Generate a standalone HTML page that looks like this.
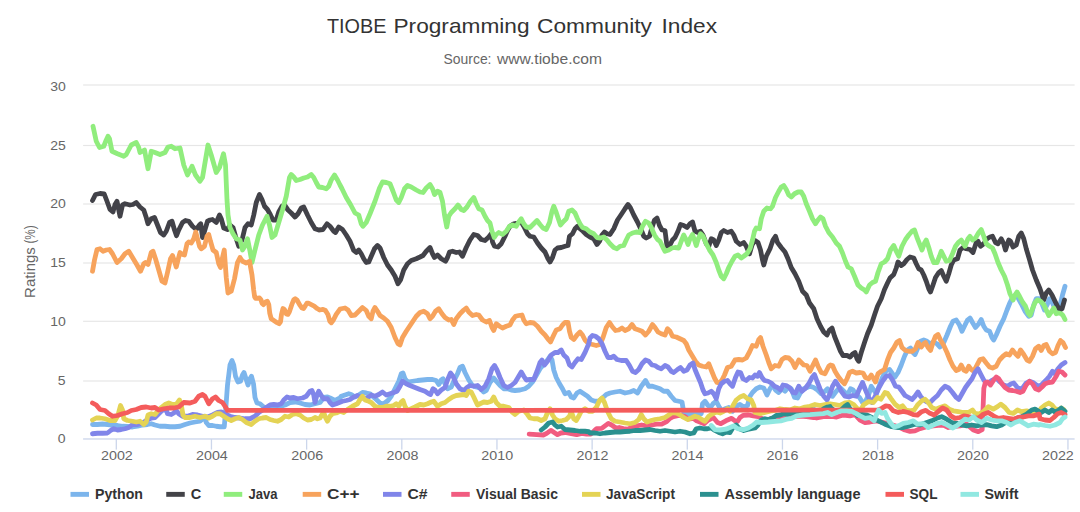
<!DOCTYPE html>
<html lang="en"><head><meta charset="utf-8"><title>TIOBE Programming Community Index</title>
<style>
html,body{margin:0;padding:0;background:#fff;}
body{width:1080px;height:512px;overflow:hidden;font-family:"Liberation Sans","DejaVu Sans",sans-serif;}
svg{display:block;}
text{font-family:"Liberation Sans","DejaVu Sans",sans-serif;}
.ttl{font-size:20.8px;fill:#333333;}
.sub{font-size:14.2px;fill:#666666;}
.ax{font-size:13px;fill:#666666;}
.yt{font-size:14px;fill:#666666;}
.lg{font-size:14px;font-weight:bold;fill:#333333;}
.ser{fill:none;stroke-width:4.8;stroke-linejoin:round;stroke-linecap:round;}
.grid{fill:#e6e6e6;}
.axl{fill:#ccd6eb;}
</style></head><body>
<svg width="1080" height="512" viewBox="0 0 1080 512">
<rect x="0" y="0" width="1080" height="512" fill="#ffffff"/>

<g class="grid">
<rect x="83.1" y="84.425" width="991.5" height="1.15"/>
<rect x="83.1" y="144.925" width="991.5" height="1.15"/>
<rect x="83.1" y="203.425" width="991.5" height="1.15"/>
<rect x="83.1" y="262.425" width="991.5" height="1.15"/>
<rect x="83.1" y="320.725" width="991.5" height="1.15"/>
<rect x="83.1" y="380.425" width="991.5" height="1.15"/>
</g>
<defs><filter id="soft" x="0" y="0" width="1080" height="512" filterUnits="userSpaceOnUse"><feGaussianBlur stdDeviation="0.45"/></filter></defs>
<g class="series" filter="url(#soft)">
<path class="ser" d="M92.5 424.5 L97.5 424.5 L102.5 424 L107.5 424.5 L112.5 425 L117.5 425.5 L122.5 426.25 L127.5 426.5 L132.5 427 L137.5 426.25 L142.5 425 L147.5 424.5 L151.25 423.75 L155 425 L160 426.25 L165 426.25 L170 426.75 L175 426.75 L180 426.25 L185 424.5 L190 423 L195 422 L200 421.25 L203 418.75 L204.5 416.25 L206.25 422.5 L208.75 425.5 L212.5 425.5 L216.25 426.25 L220 426.75 L224.25 426.75 L225.5 412.5 L227.5 385 L230 365 L232 360.5 L233.75 365 L235.5 376.25 L238 382 L240.5 381.25 L242.5 375 L244 372.5 L246 378.75 L248 385 L250 378.75 L251.5 376.25 L253.5 383.75 L255 397.5 L257 403 L260 403.75 L263.75 407 L267.5 408 L272.5 408 L278.75 407 L285 405 L290 402.5 L295 402 L300 403 L305 404.5 L310 405 L315 403.75 L320 402.5 L323.75 397.5 L327.5 397 L330 398 L335 400.5 L340 398 L341.25 396.25 L345 395 L348.75 393.75 L351.25 394.5 L355 397 L358.75 395 L362.5 392.5 L366.25 393 L370 393.75 L372.5 396.25 L376.25 399.5 L380 403 L383.75 403.75 L388 400.5 L391.25 396.25 L395 388.75 L398.75 381.25 L401.25 373.75 L403 373 L405 378.75 L407.5 382 L412.5 381.25 L417.5 380.5 L422.5 380 L427.5 379.5 L432.5 379.5 L436.25 380.5 L438.75 384.5 L441.25 380 L443 378.75 L445 383.75 L447.5 388.75 L451.25 387 L453.75 381.25 L457.5 373.75 L460 367.5 L462.5 366.25 L465 372.5 L468.75 380 L472.5 385.5 L476.25 387 L480 388 L483.75 392 L486.25 390.5 L490 382.5 L493.75 378 L496.25 381.25 L500 385.5 L503.75 388.75 L507.5 388.75 L511.25 390 L515 390.5 L520 390 L525 388.75 L528.75 386.25 L532.5 382 L536.25 375.5 L540 368.75 L543.75 364.5 L547.5 360 L550 356.25 L552 360 L553.75 370 L556.25 377.5 L559.5 383.75 L562.5 388.75 L565 393.75 L568.75 392.5 L571.25 397 L573.75 398 L577 393 L580 391.25 L583.75 393.75 L587.5 396.25 L591.25 400 L595 401.25 L598.75 401.25 L602.5 398 L606.25 394.5 L610 393 L615 392 L620 391.25 L625 393 L630 392 L633.75 390.5 L637.5 393 L641.25 386.25 L645.5 380.5 L648.75 386.25 L652.5 386.25 L656.25 387.5 L660 388.75 L663.75 391.25 L667.5 391.25 L671.25 396.25 L675 400.5 L678.75 401.25 L682 402 L683.75 412.5 L687.5 413.75 L692.5 413.75 L697.5 413.75 L701.25 413.75 L702.5 403.75 L705 401.25 L708 405.5 L710.5 407.5 L713 403.75 L716.25 401.25 L719.5 407.5 L722.5 411.25 L725 408.75 L728.75 407.5 L732.5 411.25 L736.25 406.25 L740 404.5 L743.75 407 L747.5 405.5 L750 396.25 L752.5 392.5 L756.25 388.75 L760 387 L763.75 388 L767 395 L770 388.75 L772.5 385 L775.5 390 L778.75 392.5 L782 388.75 L785 391.25 L788 387.5 L791.25 388.75 L794.5 397.5 L797.5 398 L800.5 392.5 L803.75 388.75 L807 387.5 L810 386.25 L813.75 387.5 L817.5 390 L821.25 393.75 L825 391.25 L827.5 388.75 L830 393.75 L832.5 396.25 L836.25 391.25 L840 387.5 L843.75 391.25 L847.5 395 L850.5 388.75 L853 390 L856.25 394.5 L859.5 397.5 L862.5 402.5 L865.5 401.25 L868.75 394.5 L871.25 386.25 L873.75 390 L876.25 393.75 L879.5 385 L883 376.25 L886.25 370.5 L889.5 369.5 L892.5 373.75 L895 377 L898 372.5 L901.25 365 L904.5 356.25 L907.5 350 L910.5 348 L913 352.5 L915 354.5 L918 347.5 L920.5 341.25 L923.75 340 L927 341.25 L930 343.75 L933.75 342 L937 343.75 L940 347 L943.75 342.5 L947 335 L950.5 326.25 L953 321.25 L956.25 320 L959.5 325 L962 331.25 L965 325 L967.5 320 L970 318 L972.5 322.5 L975.5 327.5 L978.75 323.75 L981.25 319.5 L983.75 326.25 L986.25 330 L989.5 331.25 L992 337.5 L993.75 340 L996.25 335 L1000 326.25 L1003.75 318.75 L1007 310 L1010 302.5 L1012.5 297.5 L1016.25 294.5 L1021.25 303.75 L1025 311.25 L1028.75 316.25 L1031.25 315 L1033.75 305 L1036.25 298.75 L1039.5 298.75 L1042.5 305 L1044.5 310 L1047 305 L1049.5 298.75 L1052 302 L1054.5 307.5 L1057.5 310.5 L1060 305 L1062.5 295 L1065 286.25" stroke="#7cb5ec"/>
<path class="ser" d="M92.5 200.5 L95.5 194.5 L100 193.5 L104.25 194 L107 201.25 L110 209.5 L113 212 L115 204.5 L117 201.25 L120 216.25 L122.5 205 L125 203.75 L130 205 L133 204.5 L136.25 202.5 L140 207 L143.75 210 L146.25 217.5 L148 223.75 L151.25 218.75 L154.5 217.5 L157.5 225 L160.5 232.5 L163.75 235 L166.25 231.25 L169.5 222.5 L172 221.25 L174.5 230 L176.5 235.75 L178.75 230 L182.5 222.5 L185.5 220.5 L188.75 221.25 L192.5 226.25 L196.25 229.5 L199.5 225 L200.75 223.75 L202.5 237.5 L204.5 231.25 L207.5 221.25 L210 220 L212.5 219.5 L216.25 222.5 L219.5 215 L221.25 218.75 L223.75 228 L227.5 229.5 L230 225 L233 227.5 L235.5 236.25 L238.75 246.25 L242 240 L245 227.5 L248 223.75 L251.25 225 L253.75 215 L256.25 202.5 L259.5 194.5 L262 199.5 L264.5 206.25 L267.5 209.5 L270.5 215 L273 220 L276.25 220 L278.75 212 L282 206.25 L284.5 205 L288 210 L291.25 213 L295 217 L298 213.75 L301.25 208 L303.75 207 L307.5 215 L311.25 222.5 L315 228.75 L318.75 230 L323 229.5 L327 223.75 L330 226.25 L333.75 231.25 L335.5 232.5 L338.75 227 L342.5 229.5 L346.25 235 L350 241.25 L353.75 250.5 L356.25 252.5 L358.75 250 L361.25 253.75 L363.75 258.75 L366.25 262.5 L368.75 262 L371.25 256.25 L374.5 248.75 L377.5 245.5 L380 248 L383.75 257.5 L387.5 265 L391.25 270 L395 276.25 L398 283.75 L400.5 280 L403.75 270 L407.5 263.75 L411.25 260.5 L416.25 258.75 L420 257 L423 255.5 L426.25 251.25 L430 247.5 L432.5 253.75 L434.5 257.5 L437.5 255 L441.25 258.75 L445.5 261.25 L447.5 257.5 L449.5 252 L452.5 251.25 L456.25 252.5 L459.5 252 L462.5 256.25 L466.25 247.5 L470 240 L473.75 234.5 L477.5 235.5 L481.25 239.5 L485 240.5 L488.75 237 L491.25 233.75 L492.5 242 L494.5 246.25 L498 247 L501.25 243.75 L505 236.25 L507.5 230.5 L510 226.25 L513.75 223.75 L517.5 223 L521.25 222 L523.75 226.25 L527.5 233.75 L530 236.25 L533.75 237 L537.5 243 L541.25 248 L545 252 L548 258.75 L550 262 L552.5 257.5 L555 250 L557.5 248 L561.25 247.5 L565 246.25 L568 245.5 L569.5 236.25 L572.5 233.75 L575 228.75 L577.5 226.25 L580 228.75 L583 231.25 L586.25 234.5 L590 237 L593.75 238.75 L597 244.5 L599.5 241.25 L602 235 L604.5 232 L607 233.75 L610 234.5 L613.75 228.75 L617.5 220 L621.25 214.5 L625 208.75 L628 204.5 L630.5 208 L633.75 215 L637.5 222 L641.25 230 L643.75 236.25 L646.25 238 L649.5 236.25 L652 227.5 L654.5 220 L657 218 L659.5 225.5 L662 230 L665 230.5 L667 246.25 L670 245 L672.5 240 L675 237.5 L678 231.25 L680.5 224.5 L683.75 225.5 L687 227.5 L690 223.75 L692.5 222 L695 231.25 L698 232.5 L700.5 231.25 L703 235 L706.25 243.75 L708.75 246.25 L711.25 238.75 L713.75 240 L716.25 245.5 L718.75 240 L721.25 232.5 L723.75 230.5 L727.5 232.5 L731.25 231.25 L733.75 235 L736.25 241.25 L740 244.5 L743.75 242.5 L746.25 246.25 L749.5 253.75 L752 245 L755 240.5 L758 242.5 L760.5 250 L762.5 260 L763.75 265 L766.25 256.25 L770 248.75 L773 240 L775.5 236.25 L777.5 242.5 L781.25 247.5 L785 252 L788 258.75 L791.25 267.5 L795 273.75 L798.75 281.25 L802.5 291.25 L806.25 295 L809.5 303 L813.75 308.75 L817 318.75 L820.5 326.25 L823.75 332 L827 335 L829.5 330 L832 328 L834.5 336.25 L837.5 343.75 L840.5 351.25 L843 355.5 L847 355.5 L850 357 L853 353.75 L855 352.5 L857 358.75 L858.75 361.25 L861.25 352.5 L864.5 342.5 L867.5 333.75 L871.25 325 L874.5 315 L877.5 306.25 L881.25 298.75 L884.5 289.5 L887.5 283 L890 278 L893.75 274.5 L896.25 268 L898 262 L901.25 265.5 L903.75 263.75 L907 259.5 L910 257 L913.75 258 L916.25 263.75 L918.75 268.75 L921.25 270 L923.75 275 L926.25 281.25 L928.75 288.75 L930.5 292 L933 285 L935.5 277.5 L938.75 272.5 L941.25 270.5 L943.75 276.25 L946.25 281.25 L948.75 273.75 L951.25 265 L953.75 260 L957.5 258.75 L960 250 L963 247.5 L966.25 248.75 L970 249.5 L973 252.5 L976.25 242.5 L978 241.25 L980.5 246.25 L983.75 243.75 L987 238.75 L990 237 L992.5 236.25 L995.5 242.5 L998 243.75 L1001.25 238.75 L1003.75 243.75 L1005.5 250 L1008.75 240 L1010.5 241.25 L1013 247 L1016.25 245 L1018.75 236.25 L1021.25 233 L1023.75 238.75 L1026.25 248.75 L1029.5 259.5 L1032.5 270 L1036.25 280 L1040 288.75 L1043.75 300 L1046.25 293 L1048.75 290 L1052 295 L1055 301.25 L1057.5 306.25 L1060 310 L1062 308.75 L1064.5 300" stroke="#434348"/>
<path class="ser" d="M93 126.25 L96.25 141.25 L99.5 147.5 L103.75 146.25 L106.25 140 L108 136.25 L109.5 138.75 L112 151.25 L117.5 153.75 L123.75 156.25 L126.25 154.5 L131.25 145 L136.25 142.5 L138.75 147.5 L140 152.5 L144.5 150 L148 168.75 L151.25 151.25 L155 152.5 L160 154.5 L165 152.5 L168 147 L171.25 146.25 L175 148.75 L180 148 L183.75 165 L187.5 175 L192 166.25 L195.5 175 L200 181.25 L202.5 177.5 L208 145 L211.25 155 L216.25 172.5 L219.5 167.5 L223.5 153.75 L225.5 165 L227 200 L228 215 L230 227.5 L233 233.75 L236.25 238.75 L240 240 L242.5 250 L245 246.25 L247.5 238.75 L250 251.25 L252 262.5 L255 250 L258.75 235 L262.5 225 L267 216.25 L269.5 225 L272 237.5 L275 235 L278.75 222.5 L282.5 210 L286.25 196.25 L289.5 177.5 L291.25 174.5 L293.75 177 L296.25 180.5 L300 179.5 L303.75 178 L307.5 177 L311.25 174.5 L313.75 177.5 L316.25 182.5 L318.75 187 L322.5 187.5 L326.25 188.75 L328.75 186.25 L331.25 180 L334.5 175 L337.5 180 L340 185 L342 188.75 L346.25 197.5 L350.5 204.5 L355 213 L358.75 215 L361.25 223.75 L363 226.25 L366.25 222.5 L370 213.75 L375 201.25 L379.5 188 L382.5 182 L386.25 182.5 L390 183.75 L393 191.25 L396.25 200 L398.75 202.5 L401.25 197.5 L404.5 188.75 L407.5 185.5 L411.25 187 L416.25 190 L420 192 L423 192.5 L426.25 188 L430 184.5 L432.5 188.75 L434.5 194.5 L437.5 191.25 L440 192.5 L442.5 201.25 L444.5 215 L446.75 227 L448.75 216.25 L451.25 212.5 L455 208.75 L458 205 L461.25 209.5 L463.75 210.5 L467 207 L470.5 201.25 L473.75 197.5 L476.25 203.75 L478.75 208.75 L482 210 L485 216.25 L487.5 220.5 L490 223 L492 231.25 L494.25 237.5 L496.25 234.5 L498.75 232.5 L502.5 234.5 L506.25 231.25 L509.5 226.25 L512.5 225 L516.25 226.25 L518.75 222 L521.25 218.75 L523.75 223.75 L526.25 227 L530 227.5 L533.75 223.75 L537 220.5 L540 224.5 L543 228 L546.25 229.5 L549.5 222.5 L552 211.25 L553.75 206.25 L556.25 212.5 L558.75 220 L560.5 225 L563.75 221.25 L566.25 218.75 L568.75 211.25 L572 210 L575 213 L577.5 218.75 L580 223.75 L582.5 227.5 L586.25 228.75 L590 232 L593.75 233.75 L597 237.5 L600.5 238 L603.75 237 L607 240 L610 243.75 L613.75 247.5 L617 248.75 L620 246.25 L623.75 245.5 L626.25 240 L628.75 235 L632.5 233 L636.25 232 L640 232.5 L642.5 226.25 L645.5 221.25 L648.75 223 L651.25 227.5 L654.5 235 L657.5 239.5 L660 241.25 L663 247.5 L665 251.25 L668.75 250 L672 248 L675 247.5 L678.75 248 L681.25 241.25 L683.75 235 L686.25 240 L688 244.5 L690 238.75 L692.5 234.5 L694.5 240 L696.25 245.5 L698 239.5 L700.5 233.75 L703 236.25 L706.25 243.75 L709.5 250 L713 255 L716.25 262.5 L718.75 270 L721.25 276.25 L723.75 278.75 L726.25 273.75 L728.75 267.5 L732 261.25 L735 256.25 L738 255 L741.25 258 L743.75 256.25 L747 253.75 L750 248.75 L752.5 240 L754.5 231.25 L756.25 228 L759.5 228.75 L761.25 218.75 L763.75 211.25 L767 208 L770.5 208.75 L772.5 206.25 L775.5 197.5 L778.75 191.25 L781.25 187 L783.75 185.5 L786.25 189.5 L788.75 195 L791.25 197 L794.5 193.75 L798 192 L801.25 192 L803.75 196.25 L806.25 203.75 L809.5 211.25 L812.5 218.75 L815.5 223.75 L818 220 L820.5 217 L823 218.75 L825.5 226.25 L828.75 232.5 L832.5 237 L836.25 243 L839.5 246.25 L842.5 253 L845.5 261.25 L848 267 L851.25 268.75 L854.5 276.25 L858 285 L861.25 288 L864.5 290 L866.25 292 L869.5 285 L872.5 282.5 L875.5 281.25 L878 272.5 L881.25 263.75 L884.5 262 L887.5 258.75 L890.5 250 L893.75 245.5 L896.25 251.25 L898.75 256.25 L902 246.25 L905.5 239.5 L908.75 235 L912 231.25 L914.5 230 L917 237.5 L920 245 L922 250 L924.5 243 L926.25 240 L928.75 247.5 L931.25 256.25 L933.75 262.5 L937 262.5 L939.5 256.25 L941.25 251.25 L943.75 256.25 L946.25 261.25 L949.5 260.5 L952.5 253.75 L955.5 246.25 L958.75 242 L961.25 240 L965 246.25 L968 238.75 L970 236.25 L972.5 240 L975.5 238 L978.75 232.5 L981.25 229.5 L983.75 236.25 L986.25 243.75 L989.5 246.25 L992.5 248 L995 253.75 L998 262.5 L1001.25 270 L1004.5 276.25 L1007.5 285 L1010 293.75 L1013 300 L1015 295 L1017 292 L1019.5 296.25 L1022.5 302 L1025.5 306.25 L1028 313 L1030 315.5 L1032.5 308.75 L1035 302.5 L1037.5 300 L1040.5 301.25 L1043.75 304.5 L1046.25 310 L1048.75 315.5 L1051.25 312 L1053.75 308 L1056.25 313.75 L1058.75 313 L1061.25 313.75 L1063 315.5 L1065 319.5" stroke="#90ed7d"/>
<path class="ser" d="M92.5 271.25 L94.5 260 L97 249.5 L100 248.75 L103 251.25 L106.25 250 L109.5 249.5 L112.5 253.75 L117 262.5 L121.25 258.75 L125 253.75 L128.75 251.25 L132.5 257.5 L137 265 L140.5 271.25 L143.75 263.75 L145.5 262.5 L148 264.5 L151.25 252.5 L153 251.25 L155.5 258.75 L158.75 270 L162 281.25 L165 283 L167.5 272.5 L170.5 258.75 L172.5 255.5 L174.5 261.25 L176.25 267 L178 260 L180 252.5 L182.5 254.5 L184.5 255 L187 243.75 L188.75 242 L191.25 243 L193.75 238.75 L195.75 232 L197.5 238.75 L199.5 246.25 L201.25 248.75 L204.5 246.25 L207 236.25 L208.75 234.5 L210.5 241.25 L213 250 L216.25 252.5 L218.75 263.75 L220.5 267.5 L222.5 257.5 L224.25 250 L226.25 277.5 L228 293 L231.25 291.25 L234.5 278.75 L237.5 262.5 L240 257.5 L242.5 261.25 L246.25 263 L249.5 261.25 L252 275 L253.67 290 L254.65 296.84 L255.62 298.3 L259.53 298.01 L261 299.77 L261.97 303.18 L263.44 304.65 L265.88 301.72 L267.34 301.23 L268.81 304.65 L269.79 313.44 L271.25 318.81 L274.18 320.76 L277.11 322.71 L279.06 323.69 L280.53 321.74 L281.5 314.41 L282.97 308.55 L284.43 309.53 L286.39 313.93 L287.85 314.41 L289.32 311.97 L291.76 304.65 L293.71 299.77 L295.18 298.79 L297.13 300.25 L299.57 304.65 L302.01 308.07 L303.48 308.55 L305.43 305.62 L306.89 303.18 L308.36 303.18 L311.29 304.65 L314.22 306.11 L317.15 308.55 L319.59 310.02 L323.01 309.34 L325.45 310.51 L327.89 314.41 L329.84 321.25 L331.31 322.71 L333.26 320.27 L336.19 314.41 L340 309.04 L341.25 308.75 L345 308 L348 310 L351.25 315.5 L355 315 L358.75 311.25 L362.5 307.5 L366.25 310.5 L368.75 316.25 L371.25 318.75 L373 311.25 L375 307.5 L377.5 311.25 L380 315.5 L383.75 318 L387.5 321.25 L391.25 327.5 L395 337.5 L398 343.75 L400 345 L402.5 337.5 L406.25 331.25 L411.25 323.75 L416.25 316.25 L420 312.5 L423.75 311.25 L427.5 313.75 L430 318.75 L432.5 316.25 L435.5 311.25 L438.75 308.75 L442 313.75 L445 317.5 L448.75 320 L451.25 319.5 L453.75 324.5 L456.25 318.75 L460 313.75 L463.75 310 L466.25 308 L468.75 312 L472.5 315.5 L476.25 314.5 L478.75 315 L482.5 320 L486.25 322 L489.5 320.5 L492 327.5 L493.75 330.5 L496.25 323.75 L499.5 326.25 L502.5 328 L506.25 326.25 L510 325 L512.5 320 L515.5 316.25 L518.75 315.5 L522 315 L523.75 320 L526.25 323.75 L530 322.5 L533.75 323 L537.5 326.25 L541.25 331.25 L545 335 L548.75 340 L550.5 342 L553.75 335 L556.25 330 L560 328.75 L562.5 325 L565 322.5 L568 322.5 L569.5 331.25 L571.25 337.5 L573.75 339.5 L577 335 L580 332 L582.5 335 L585 340 L588.75 343.75 L592.5 344.5 L596.25 345.5 L600 344.5 L603 337.5 L606.25 327.5 L609.5 322.5 L612.5 327 L615.5 330.5 L618.75 330 L622 328 L625 330.5 L628.75 328.75 L632 324.5 L635 328.75 L638.75 330 L642 331.25 L645.5 335 L648.75 331.25 L652.5 324.5 L655 327.5 L658 332 L661.25 333.75 L665 335 L667.5 328.75 L670 331.25 L672.5 336.25 L676.25 337 L680 338.75 L683.75 340.5 L686.25 343.75 L688.75 350 L692.5 356.25 L695.5 361.25 L698.75 365 L702.5 366.25 L706.25 367 L708.75 363.75 L711.25 370 L714.5 378 L717 382.5 L719.5 383 L722 380 L724.5 375 L727.5 367.5 L731.25 366.25 L735 360 L738.75 359.5 L742.5 360 L746.25 358 L749.5 352 L752.5 345.5 L756.25 346.25 L758.75 339.5 L760.5 337.5 L763 346.25 L766.25 355 L768.75 362.5 L771.25 368.75 L775 365.5 L778.75 366.25 L782 359.5 L785 357.5 L788.75 358 L792 361.25 L795 367.5 L798.75 360 L801.25 362.5 L803.75 365 L807 365.5 L810 371.25 L813 365 L815.5 360 L818 366.25 L821.25 372.5 L825 373.75 L828.75 366.25 L830.5 365 L832.5 365.5 L835 371.25 L838 376.25 L841.25 380.5 L844.5 383.75 L847 378.75 L849.5 372.5 L852.5 371.25 L856.25 373 L860 372.5 L863 373 L865.5 377.5 L868.75 378.75 L871.25 375 L873.75 378.75 L875.5 382 L878 373.75 L881.25 371.25 L884.5 369.5 L887.5 360 L890.5 352.5 L893.75 348 L897 342 L899.5 340.5 L902 347.5 L905.5 350.5 L908.75 351.25 L912.5 351.25 L915.5 348.75 L918 342.5 L921.25 347 L923.75 343.75 L925.5 342.5 L928 347.5 L930.5 350.5 L933 342.5 L935.5 336.25 L938 334.5 L940.5 340 L943.75 345.5 L947 352.5 L950 360 L953 366.25 L956.25 370.5 L958.75 369.5 L961.25 365 L963.75 370 L966.25 371.25 L968.75 366.25 L971.25 369.5 L973.75 371.25 L977 365 L980 359.5 L983 358.75 L986.25 363 L989.5 367 L992.5 368 L996.25 366.25 L999.5 360 L1003 356.25 L1006.25 353.75 L1009.5 355 L1012.5 350 L1015.5 353.75 L1018 356.25 L1020.5 350 L1023.75 354.5 L1027 360 L1029.5 361.25 L1032.5 356.25 L1035.5 348.75 L1038.75 346.25 L1041.25 350.5 L1043.75 345.5 L1046.25 344.5 L1049.5 351.25 L1052.5 353.75 L1055.5 352.5 L1058 345.5 L1060.5 340.5 L1063 342.5 L1065.5 347.5" stroke="#f7a35c"/>
<path class="ser" d="M92.5 433.75 L97.5 433.25 L102.5 433.25 L107.5 433 L111.25 430 L113.75 428.75 L117.5 430 L121.25 429.5 L125 428.75 L128.75 427.5 L132.5 424.5 L137.5 424.5 L142.5 423 L146.25 420.5 L151.25 418 L155 417.5 L158.75 413.75 L162.5 410 L166.25 409.5 L167.5 413.75 L171.25 414.5 L173.75 413 L176.25 410.5 L178.75 413.75 L182.5 416.25 L187.5 416.25 L192.5 414.5 L197.5 415 L202.5 416.25 L207.5 417 L212.5 415 L217.5 412.5 L221.25 412 L226.25 414.5 L230 416.25 L235 417.5 L240 418 L245 418.75 L250 418.75 L255 416.25 L258.75 412.5 L262.5 410 L266.25 407.5 L270 405 L273.75 404.5 L277.5 405 L281.25 403.75 L283.75 400 L287 397 L290 398 L293.75 397.5 L297.5 398.75 L302.5 398 L306.25 396.25 L310 391.25 L312 390.5 L313.75 395 L315 402.5 L317 395 L318.75 391.25 L321.25 395.5 L323.75 398.75 L327.5 398.75 L330 402.5 L332.5 405 L336.25 403.75 L342.5 401.25 L346.25 400.5 L350 399.5 L353.75 397 L357.5 395.5 L361.25 397.5 L365 398.75 L368.75 397 L371.25 395 L375 396.25 L378.75 394.5 L382.5 392 L386.25 395 L390 393.75 L393.75 392.5 L397 391.25 L400 386.25 L402.5 381.25 L406.25 383.75 L410 385.5 L415 387.5 L420 389.5 L425 391.25 L428.75 393.75 L430.5 394.5 L433 388.75 L435 390 L437.5 393.75 L441.25 390 L445 387.5 L447.5 380 L450.5 373 L453 376.25 L456.25 383.75 L460 388.75 L463.75 390.5 L467 387.5 L470 385.5 L473.75 386.25 L477.5 385.5 L481.25 389.5 L485 386.25 L488.75 378.75 L492 368.75 L494.5 365.5 L497 370 L500 377.5 L503.75 385.5 L507.5 387.5 L511.25 385.5 L515 382.5 L518 377.5 L521.25 372 L523.75 376.25 L526.25 380 L530 379.5 L533.75 379.5 L537 371.25 L540 362.5 L542 360 L544.5 365 L547.5 361.25 L551.25 355 L555 352.5 L558 352.5 L561.25 350 L563.75 355 L567 358 L569.5 365 L572 367 L575 362.5 L578 358.75 L581.25 359.5 L585 352.5 L588.75 343.75 L590 338 L592.5 335.5 L595.5 336.25 L598.75 338.75 L602 343.75 L605 351.25 L608 357.5 L611.25 357.5 L613.75 356.25 L617 359.5 L621.25 360.5 L626.25 360.5 L629.5 365.5 L632.5 371.25 L635.5 372.5 L638.75 369.5 L642 363.75 L645.5 360 L648.75 361.25 L652 365 L655 365.5 L658 367.5 L661.25 368.75 L665 365.5 L668 367 L671.25 371.25 L673.75 372.5 L677.5 369.5 L680.5 367.5 L683.75 371.25 L687 370 L690 365 L693 363 L695 369.5 L697.5 375.5 L700.5 382.5 L703 390 L705 393.75 L708 393 L711.25 391.25 L713.75 393.75 L716.25 398.75 L718.75 388.75 L721.25 383.75 L724.5 381.25 L727.5 380.5 L730 383.75 L732.5 386.25 L735.5 377.5 L738 372 L740.5 372.5 L743 378.75 L746.25 380.5 L749.5 377.5 L752.5 378 L755 375 L757.5 376.25 L759.5 372.5 L762 377.5 L764.5 380.5 L768 381.25 L771.25 383 L774.5 386.25 L777.5 387.5 L780.5 390 L783 385 L786.25 385.5 L789.5 387.5 L793 392.5 L795.5 393 L798.75 386.25 L802 391.25 L805 388.75 L808.75 383.75 L812 377.5 L814.5 374.5 L817 381.25 L820 388.75 L823.75 396.25 L827 400 L830 393.75 L832.5 386.25 L835.5 381.25 L838 385 L841.25 391.25 L845 396.25 L848.75 397 L852.5 395.5 L856.25 396.25 L859.5 388.75 L862.5 382.5 L865.5 390 L868.75 397.5 L872 402.5 L875.5 395.5 L878.75 388 L882.5 381.25 L886.25 376.25 L889.5 375.5 L892.5 380 L895.5 386.25 L898.75 387 L902 391.25 L905 395.5 L908.75 397.5 L912 399.5 L915 396.25 L918 392 L920.5 396.25 L923.75 400 L927 402 L930 402.5 L933.75 398.75 L937.5 395.5 L941.25 390 L945 386.25 L948.75 388 L952.5 392.5 L956.25 397.5 L958.75 399.5 L962 393.75 L965.5 387.5 L968.75 383 L972 378.75 L975 372.5 L978 368.75 L980.5 373.75 L983.75 380 L986.25 383 L989.5 382 L992.5 380 L996.25 378 L1000 382 L1003.75 385 L1007.5 386.25 L1011.25 383.75 L1013.75 383 L1017 387 L1020 389.5 L1023 387.5 L1026.25 383 L1029.5 381.25 L1033 382.5 L1036.25 385 L1039.5 386.25 L1042.5 383.75 L1046.25 380 L1049.5 376.25 L1052.5 371.25 L1055 373.75 L1058 368.75 L1061.25 365 L1065 362.5" stroke="#8085e9"/>
<path class="ser" d="M529.17 434.17 L536.67 434.67 L543.33 435 L546.67 433.33 L550.83 430.33 L554.17 432.5 L557.5 434.67 L560.83 433 L565 432.5 L570 433.33 L576.67 434.67 L581.67 433.33 L586.67 434.17 L590.83 434.17 L594.17 430.83 L596.67 428.67 L601.67 428.33 L605 425.83 L608.33 423.33 L611.67 425 L615.83 428 L619.17 427.5 L623.33 428.67 L627.5 429.17 L631.67 427.5 L636.67 425.83 L641.67 425 L646.67 425.83 L651.67 425 L656.67 424.17 L661.67 424.17 L666.67 421.67 L670 418.33 L673.33 416.67 L676.67 415.83 L680 415.33 L685 416.67 L688.33 419.17 L693.33 418.33 L696.67 420.83 L704.17 423.67 L708.33 420 L713.33 417.5 L717.5 422.5 L720.83 423.67 L725.83 420.83 L731.67 418.33 L735 420.83 L737.5 421.33 L740 417.5 L743.33 415.33 L748.33 415 L753.33 415.83 L758.33 416.67 L763.33 419.17 L766.67 420.33 L771.67 418.33 L776.67 419.17 L780.83 418 L786.67 416.67 L793.33 416.33 L800 416 L806.67 416.67 L813.33 417.5 L816.67 418 L823.33 416.67 L831.67 416.33 L836.67 417 L843.33 415 L850 415.83 L855 414.67 L860 420 L865 422.5 L870 422 L876.67 420.83 L883.33 422.5 L890 424.17 L895 425.83 L900 427.5 L905 430 L910 431.33 L915 430.83 L920 428.67 L926.67 426.67 L933.33 425.83 L938.33 425.33 L943.33 425 L948.33 427.5 L953.33 426.67 L960 425.83 L966.67 424.17 L973.33 430 L978.33 431.67 L982.17 429.67 L983 410 L983.83 388.33 L985.33 382.5 L987.5 382 L990.5 385 L993.75 380 L996.25 377 L998.75 378.75 L1002 383.75 L1005 387.5 L1008.75 390 L1012.5 390.5 L1016.25 391.25 L1020 392.5 L1023 391.25 L1026.25 385 L1029.5 381.25 L1032.5 383.75 L1035.5 388.75 L1038.75 390 L1042 387 L1045 383.75 L1048.75 382.5 L1052.5 382 L1056.25 376.25 L1058.75 371.25 L1062 372 L1065 375" stroke="#f15c80"/>
<path class="ser" d="M92.5 420 L96.25 418 L100 418 L105 418.75 L110 420.5 L115 420.5 L118 415 L120.5 405.5 L122.5 410 L123.75 418.75 L127.5 420.5 L132.5 421.25 L136.25 422 L140 421.25 L143.75 424.5 L146.25 422 L148 415 L151.25 413.75 L155 414.5 L157.5 411.25 L161.25 407.5 L165 404.5 L168.75 403 L172.5 404.5 L176.25 404.5 L179.5 400 L181.25 405 L183 415 L185 417.5 L190 417.5 L195 416.25 L200 417.5 L205 416.25 L208.75 418 L212.5 416.25 L216.25 413.75 L220 413.75 L223.75 416.25 L227.5 418.75 L231.25 420.5 L235 418.75 L238.75 417.5 L242.5 419.5 L246.25 422.5 L251.25 424.5 L255 421.25 L258.75 418.75 L262.5 418 L266.25 417.5 L270 419.5 L273.75 420.5 L277.5 421.25 L281.25 419.5 L285 416.25 L288.75 417 L292.5 414.5 L296.25 413.75 L300 415 L303.75 418 L307.5 420 L311.25 419.5 L315 417.5 L317.5 418.75 L320 418 L322.5 413.75 L323.75 412.5 L325.5 417.5 L327.5 421.25 L330 416.25 L332.5 413.75 L336.25 413 L340 411.25 L340 411.25 L343.75 412.5 L347.5 409.5 L352.5 406.25 L357.5 403.75 L360 399.5 L362.5 396.25 L365 400 L368.75 401.25 L371.25 402.5 L375 406.25 L378.75 407.5 L382.5 407.5 L386.25 406.25 L390 406.25 L393.75 405.5 L396.25 403.75 L398.75 406.25 L401.25 402 L403 400.5 L405 406.25 L407.5 410.5 L411.25 408.75 L415 407 L420 404.5 L423.75 405 L427.5 403.75 L431.25 402 L433.75 401.25 L437.5 406.25 L441.25 403.75 L445 402.5 L448.75 399.5 L452.5 397 L456.25 395.5 L460 395 L463.75 394.5 L466.25 395.5 L468.75 391.25 L471.25 392 L473.75 397 L477.5 405 L480 403.75 L483.75 402 L487.5 402.5 L491.25 401.25 L493.75 397 L496.25 402.5 L500 406.25 L503.75 406.25 L508.75 407.5 L512.5 412.5 L515 414.5 L518.75 411.25 L523.75 410 L527.5 414.5 L530 418 L533.75 418.75 L537.5 418.75 L541.25 420.5 L545 418.75 L547.5 412.5 L550 408.75 L552.5 415 L555 418.75 L558.75 421.25 L562.5 420.5 L566.25 419.5 L569.5 416.25 L571.25 411.25 L573.75 418.75 L576.25 420.5 L578.75 416.25 L581.25 411.25 L585 408.75 L588.75 411.25 L592.5 411.25 L596.25 407.5 L599.5 400.5 L602 398 L604.5 402.5 L607.5 411.25 L611.25 418.75 L615 421.25 L620 422 L625 423 L630 423.75 L635 422.5 L638.75 419.5 L641.25 414.5 L643.75 418.75 L647 422 L651.25 420.5 L655 419.5 L660 418.75 L665 417.5 L668.75 415 L672.5 412.5 L676.25 413 L680 415 L683.75 417.5 L687.5 419.5 L691.25 418 L695 416.25 L698.75 417.5 L702.5 420 L705 421.25 L708.75 416.25 L712.5 413.75 L716.25 412 L720 413 L723.75 411.25 L727.5 408.75 L730 411.25 L733 405.5 L736.25 400 L740 397 L743.75 395.5 L747.5 398.75 L751.25 400 L753.75 405.5 L755 412.5 L760 413.75 L765 412.5 L770 411.25 L775 410.5 L780 408.75 L785 409.5 L790 410 L795 408 L800 408.75 L805 407 L810 406.25 L815 404.5 L820 405.5 L825 404.5 L830 403.75 L830 403.75 L835 404.5 L840 405.5 L845 403 L850 402.5 L853.75 404.5 L857.5 408.75 L861.25 409.5 L863.33 405 L868.33 401.67 L873.33 402.5 L877.5 397.5 L880.83 399.17 L885 392.5 L887.5 393.33 L890.83 398.33 L895 404.17 L899.17 407.5 L902.5 405.83 L905.83 410 L910 410.83 L914.17 410 L917.5 405 L921.67 400.83 L925 399.17 L928.33 402.5 L931.67 407.5 L935.83 409.17 L940 407.5 L945 405.83 L949.17 409.17 L953.33 410.83 L958.33 411.67 L963.33 412.5 L968.33 412.5 L972.5 410 L975 413.33 L979.17 414.17 L983.33 411.67 L988.33 406.67 L993.33 409.17 L997.5 406.67 L1000.83 404.17 L1005 407.5 L1009.17 412.5 L1013.33 413.33 L1017.5 410 L1021.67 411.67 L1026.67 410.83 L1031.67 412.5 L1039.17 411.67 L1041.25 408 L1045 405 L1048.75 403 L1052 405 L1055 408.75 L1058.75 409.5 L1061.25 408 L1063.75 409.5" stroke="#e4d354"/>
<path class="ser" d="M541.25 430 L545 427 L548.75 423 L552.5 422 L555 425 L557.5 427 L561.25 426.25 L565 429.5 L570 430 L575 430.5 L580 431.25 L585 431.25 L588.75 431.75 L590 433 L595 433 L600 433.75 L605 433 L610 432.5 L615 432 L620 432 L625 431.5 L630 431.25 L635 430.5 L640 430.5 L645 430 L650 429.5 L655 430.5 L660 431.25 L665 430.5 L670 431.25 L675 432 L680 431.25 L685 432 L690 433.75 L693.75 433 L696.25 428.75 L700 428 L703.75 428.75 L707.5 428.75 L711.25 428 L715 430.5 L718.75 432.5 L722.5 433.75 L726.25 432 L730 432.5 L733 427.5 L736.25 425 L739.5 428.75 L743.75 430.5 L747.5 429.5 L751.25 428.75 L755 428 L758 425 L761.25 420 L765 418.75 L768.75 419.5 L772.5 418 L776.25 415.5 L780 415 L783.75 413.75 L787.5 414.5 L791.25 413 L795 413.75 L798.75 412.5 L802.5 412 L806.25 412.5 L810 410.5 L815 410 L820 411.25 L823.75 408.75 L827.5 407 L830 406.5 L830 407 L833.75 410 L837.5 411.25 L841.25 410 L845 406.25 L847.5 404.5 L850 408.75 L853.75 412 L857.5 415.5 L860 414.17 L866.67 415 L871.67 417.5 L878.33 420.83 L885 424.17 L891.67 426.67 L898.33 427.5 L903.33 427.5 L909.17 425.83 L915 424.17 L920 425 L926.67 422.5 L931.67 420.83 L936.67 418.33 L941.67 416.67 L946.67 419.17 L951.67 422.5 L956.67 423.33 L961.67 425 L966.67 425.83 L971.67 425 L976.67 425.83 L981.67 425 L986.67 424.67 L991.67 425.83 L996.67 426.67 L1001.67 425 L1006.67 421.67 L1011.67 420.83 L1016.67 418.33 L1021.67 416.67 L1026.67 414.17 L1031.67 410 L1035 409.17 L1039.17 411.67 L1041.25 412.5 L1045 410 L1048.75 412.5 L1052 410 L1055 412 L1058.75 410 L1061.25 408 L1065 411.25" stroke="#2b908f"/>
<path class="ser" d="M92.5 403 L96.25 405 L100 409.5 L105 410.5 L108.75 413.75 L112.5 416.25 L117.5 415.5 L122.5 413.75 L127.5 412.5 L131.25 410.5 L136.25 409.5 L141.25 407.5 L146.25 407 L151.25 408 L155 407.5 L158.75 410 L163.75 408.75 L168.75 408 L173.75 408 L178.75 407 L183.75 402.5 L190 403 L195 401.25 L198.75 396.25 L202.5 394.5 L205 396.25 L208.75 403.75 L212.5 398.75 L215.5 397 L218.75 400.5 L222.5 402.5 L225 406.25 L227.5 410.45 L877.5 410.17 L881.67 408.33 L885.83 405.83 L889.17 406.33 L893.33 410.83 L898.33 412.5 L903.33 411.33 L908.33 412.5 L913.33 414.67 L917.5 415 L921.67 411.67 L925.83 410.33 L930 413.33 L934.17 415 L938.33 411.33 L942.5 408 L946.67 410 L950.83 415.83 L955 418.33 L960 417.5 L964.17 415.83 L968.33 416.67 L973.33 417.5 L978.33 418.33 L983.33 414.17 L988.33 412.5 L993.33 415.83 L998.33 418.33 L1003.33 417.5 L1008.33 418.33 L1013.33 419.17 L1018.33 417.5 L1023.33 417 L1028.33 415.83 L1033.33 415.83 L1039.17 414.17 L1040 418.75 L1045 420 L1050 420.5 L1053.75 417.5 L1057.5 413.75 L1061.25 412.5 L1065 414.5" stroke="#f45b5b"/>
<path class="ser" d="M711.25 425.5 L711.67 425.83 L715 429.67 L720 430 L725.83 429.17 L730 427.5 L733.67 425.83 L737.5 428.67 L743.33 429.67 L748.33 428 L753.33 425 L756.67 422 L761.67 422.5 L768.33 422 L775 421.33 L780.83 420.83 L786.67 419.17 L791.67 418.33 L796.67 415.83 L803.33 415 L810 414.67 L816.67 414.17 L823.33 413.67 L827.5 412.5 L831.67 414.67 L836.67 412.5 L841.67 410.83 L846.67 410.83 L851.67 411.33 L855.83 413.33 L860 415.83 L865 418.33 L870 417.5 L874.17 420.83 L876.67 414.17 L878.67 410 L881.67 413.33 L885 412.5 L887.5 418.33 L890.83 423.33 L894.17 427 L898.33 425.83 L903.33 423.33 L908.33 422.5 L913.33 420.83 L917.5 424.17 L923.33 423.67 L928.33 427.5 L931.67 425.83 L936.67 423.67 L941.67 422.5 L946.67 424.67 L952.5 428 L956.67 425.83 L960.83 422.5 L965 419.17 L969.17 420 L973.33 416.67 L976.67 420 L981.67 422.5 L986.67 418.33 L991.67 420 L996.67 420.83 L1001.67 420.83 L1006.67 422.5 L1010.83 425 L1015 422.5 L1020 420.83 L1024.17 423.33 L1028.33 425.83 L1033.33 424.17 L1039.17 425 L1040 424.5 L1045 425.5 L1050 426.25 L1055 425 L1060 422.5 L1062.5 418.75 L1065 417" stroke="#91e8e1"/>
</g>
<g class="axl">
<rect x="83.1" y="438.3" width="991.5" height="1.35"/>
<rect x="115.65" y="439" width="1.3" height="10.6"/>
<rect x="210.81" y="439" width="1.3" height="10.6"/>
<rect x="305.98" y="439" width="1.3" height="10.6"/>
<rect x="401.15" y="439" width="1.3" height="10.6"/>
<rect x="496.31" y="439" width="1.3" height="10.6"/>
<rect x="591.48" y="439" width="1.3" height="10.6"/>
<rect x="686.64" y="439" width="1.3" height="10.6"/>
<rect x="781.81" y="439" width="1.3" height="10.6"/>
<rect x="876.97" y="439" width="1.3" height="10.6"/>
<rect x="972.13" y="439" width="1.3" height="10.6"/>
<rect x="1067.30" y="439" width="1.3" height="10.6"/>
</g>
<text class="ttl" x="327" y="32.5" textLength="59.5" lengthAdjust="spacingAndGlyphs">TIOBE</text>
<text class="ttl" x="393.5" y="32.5" textLength="136" lengthAdjust="spacingAndGlyphs">Programming</text>
<text class="ttl" x="537" y="32.5" textLength="115" lengthAdjust="spacingAndGlyphs">Community</text>
<text class="ttl" x="661.5" y="32.5" textLength="55.5" lengthAdjust="spacingAndGlyphs">Index</text>
<text class="sub" x="443.5" y="64.1" textLength="48" lengthAdjust="spacingAndGlyphs">Source:</text>
<text class="sub" x="497" y="64.1" textLength="105" lengthAdjust="spacingAndGlyphs">www.tiobe.com</text>
<text class="ax" x="50.2" y="90.7" textLength="15.6" lengthAdjust="spacingAndGlyphs">30</text>
<text class="ax" x="50.2" y="149.7" textLength="15.6" lengthAdjust="spacingAndGlyphs">25</text>
<text class="ax" x="50.2" y="207.9" textLength="15.6" lengthAdjust="spacingAndGlyphs">20</text>
<text class="ax" x="50.2" y="267.3" textLength="15.6" lengthAdjust="spacingAndGlyphs">15</text>
<text class="ax" x="50.2" y="325.6" textLength="15.6" lengthAdjust="spacingAndGlyphs">10</text>
<text class="ax" x="57.8" y="385.2" textLength="7.8" lengthAdjust="spacingAndGlyphs">5</text>
<text class="ax" x="57.8" y="442.8" textLength="7.8" lengthAdjust="spacingAndGlyphs">0</text>
<text class="ax" x="101.0" y="460.2" textLength="31.8" lengthAdjust="spacingAndGlyphs">2002</text>
<text class="ax" x="196.0" y="460.2" textLength="31.8" lengthAdjust="spacingAndGlyphs">2004</text>
<text class="ax" x="291.35" y="460.2" textLength="31.8" lengthAdjust="spacingAndGlyphs">2006</text>
<text class="ax" x="386.6" y="460.2" textLength="31.8" lengthAdjust="spacingAndGlyphs">2008</text>
<text class="ax" x="481.35" y="460.2" textLength="31.8" lengthAdjust="spacingAndGlyphs">2010</text>
<text class="ax" x="576.6" y="460.2" textLength="31.8" lengthAdjust="spacingAndGlyphs">2012</text>
<text class="ax" x="671.6" y="460.2" textLength="31.8" lengthAdjust="spacingAndGlyphs">2014</text>
<text class="ax" x="766.6" y="460.2" textLength="31.8" lengthAdjust="spacingAndGlyphs">2016</text>
<text class="ax" x="862.1" y="460.2" textLength="31.8" lengthAdjust="spacingAndGlyphs">2018</text>
<text class="ax" x="957.1" y="460.2" textLength="31.8" lengthAdjust="spacingAndGlyphs">2020</text>
<text class="ax" x="1042.0" y="460.2" textLength="31.8" lengthAdjust="spacingAndGlyphs">2022</text>
<text class="yt" transform="translate(35.4,297.9) rotate(-90)" textLength="50.6" lengthAdjust="spacingAndGlyphs">Ratings</text>
<text class="yt" transform="translate(35.4,243.6) rotate(-90)" textLength="18.2" lengthAdjust="spacingAndGlyphs">(%)</text>
<rect x="70.5" y="491.9" width="18.5" height="4.9" fill="#7cb5ec"/>
<text class="lg" x="95" y="498.75" textLength="48" lengthAdjust="spacingAndGlyphs">Python</text>
<rect x="166.25" y="491.9" width="18.5" height="4.9" fill="#434348"/>
<text class="lg" x="190.8" y="498.75" textLength="10.5" lengthAdjust="spacingAndGlyphs">C</text>
<rect x="223.75" y="491.9" width="18.5" height="4.9" fill="#90ed7d"/>
<text class="lg" x="248.5" y="498.75" textLength="29" lengthAdjust="spacingAndGlyphs">Java</text>
<rect x="302.7" y="491.9" width="18.5" height="4.9" fill="#f7a35c"/>
<text class="lg" x="327" y="498.75" textLength="32.5" lengthAdjust="spacingAndGlyphs">C++</text>
<rect x="383" y="491.9" width="18.5" height="4.9" fill="#8085e9"/>
<text class="lg" x="407.5" y="498.75" textLength="20" lengthAdjust="spacingAndGlyphs">C#</text>
<rect x="451.25" y="491.9" width="18.5" height="4.9" fill="#f15c80"/>
<text class="lg" x="476" y="498.75" textLength="82" lengthAdjust="spacingAndGlyphs">Visual Basic</text>
<rect x="582" y="491.9" width="18.5" height="4.9" fill="#e4d354"/>
<text class="lg" x="606" y="498.75" textLength="69" lengthAdjust="spacingAndGlyphs">JavaScript</text>
<rect x="700" y="491.9" width="18.5" height="4.9" fill="#2b908f"/>
<text class="lg" x="724.5" y="498.75" textLength="136" lengthAdjust="spacingAndGlyphs">Assembly language</text>
<rect x="885.5" y="491.9" width="18.5" height="4.9" fill="#f45b5b"/>
<text class="lg" x="909.5" y="498.75" textLength="28" lengthAdjust="spacingAndGlyphs">SQL</text>
<rect x="960.5" y="491.9" width="18.5" height="4.9" fill="#91e8e1"/>
<text class="lg" x="984.5" y="498.75" textLength="34" lengthAdjust="spacingAndGlyphs">Swift</text>
</svg></body></html>
